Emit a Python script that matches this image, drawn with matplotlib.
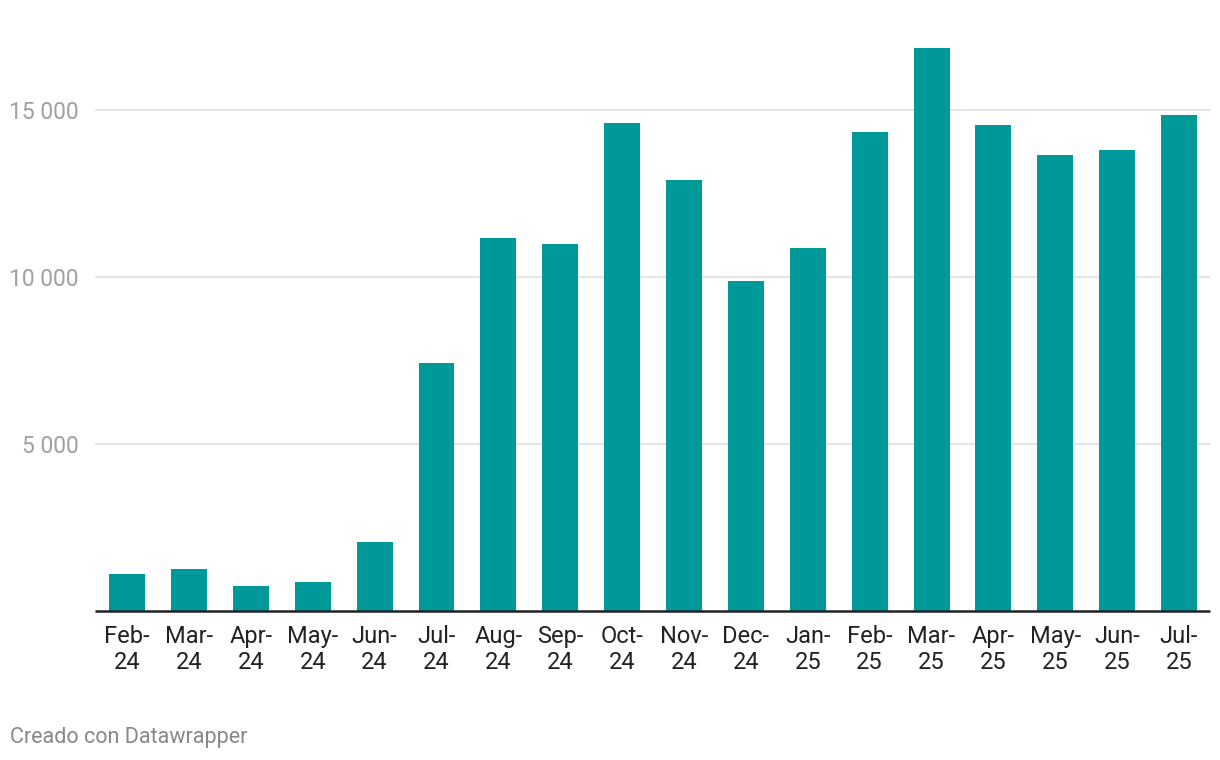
import matplotlib
matplotlib.use("Agg")
import matplotlib.pyplot as plt
from matplotlib.ticker import FuncFormatter

plt.rcParams["font.family"] = ["Roboto", "DejaVu Sans"]

months = ["Feb-\n24", "Mar-\n24", "Apr-\n24", "May-\n24", "Jun-\n24", "Jul-\n24",
          "Aug-\n24", "Sep-\n24", "Oct-\n24", "Nov-\n24", "Dec-\n24", "Jan-\n25",
          "Feb-\n25", "Mar-\n25", "Apr-\n25", "May-\n25", "Jun-\n25", "Jul-\n25"]
values = [1110, 1260, 750, 870, 2070, 7430, 11170, 10990, 14610, 12900,
          9880, 10870, 14340, 16860, 14550, 13650, 13800, 14850]
yticks = [5000, 10000, 15000]

fig = plt.figure(figsize=(12.2, 7.6), dpi=100)
ax = fig.add_axes([95/1220, 1 - 611/760, (1210-95)/1220, (611-43)/760])

x = range(len(months))
ax.bar(x, values, width=0.58, color="#009999", zorder=3)

ax.set_xlim(-0.52, len(months) - 0.5)
ax.set_ylim(0, 17000)
ax.set_yticks(yticks)
ax.yaxis.set_major_formatter(FuncFormatter(lambda v, p: f"{int(v):,}".replace(",", " ")))
ax.grid(axis="y", color="#e5e5e5", linewidth=1.5, zorder=0)
ax.tick_params(axis="y", length=0, pad=12, labelsize=16.5, labelcolor="#a0a0a0")

ax.set_xticks(list(x))
ax.set_xticklabels(months, fontsize=17, color="#222222", linespacing=1.15)
ax.tick_params(axis="x", length=0, pad=10)

for s in ["top", "right", "left"]:
    ax.spines[s].set_visible(False)
ax.spines["bottom"].set_color("#222222")
ax.spines["bottom"].set_linewidth(1.8)
ax.spines["bottom"].set_capstyle("butt")
ax.spines["bottom"].set_zorder(4)

fig.text(10/1220, 1 - 737/760, "Creado con Datawrapper", fontsize=15.5,
         color="#888888", va="center", ha="left")

fig.savefig("out.png", dpi=100)
